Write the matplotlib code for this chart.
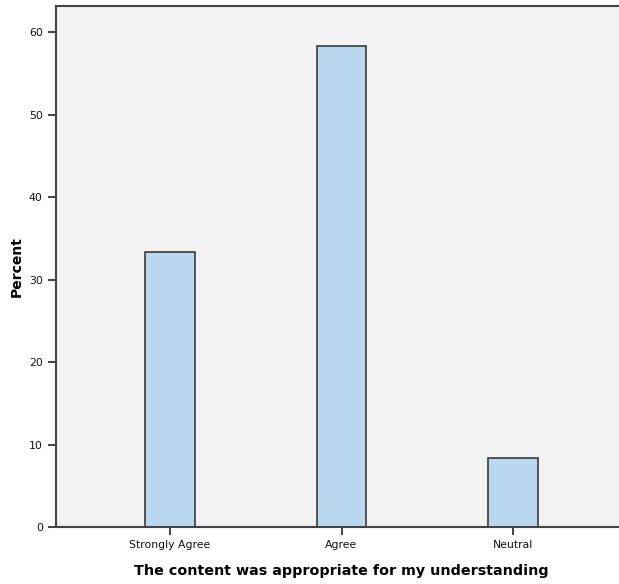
import matplotlib.pyplot as plt
import numpy as np

categories = ["Strongly Agree", "Agree", "Neutral"]
percents = [33.33, 58.33, 8.33]

fig = plt.figure(figsize=(6.19, 5.84), dpi=100)
ax = fig.add_axes([56 / 619, 57 / 584, (627 - 56) / 619, (527 - 6) / 584])
ax.set_facecolor("#F2F2F2")

x = np.arange(len(categories))
ax.bar(x, percents, width=0.29, color="#B9D7EE", edgecolor="#3A3A3A", linewidth=1.2, zorder=2)

ax.set_xlim(-0.665, 2.665)
ax.set_ylim(0, 63.2)
ax.set_yticks([0, 10, 20, 30, 40, 50, 60])
ax.set_xticks(x)
ax.set_xticklabels(categories)

for s in ["left", "bottom", "top", "right"]:
    ax.spines[s].set_color("#444444")
    ax.spines[s].set_linewidth(1.5)

ax.tick_params(axis="both", direction="out", length=6, width=1.3, color="#333333",
               labelsize=7.8, labelcolor="#111111")

ax.set_ylabel("Percent", fontsize=10, fontweight="bold")
ax.yaxis.set_label_coords(-32 / 571, 0.5)
ax.set_xlabel("The content was appropriate for my understanding", fontsize=10.3,
              fontweight="bold", labelpad=10)

fig.savefig("out.png", dpi=100, facecolor="white")
